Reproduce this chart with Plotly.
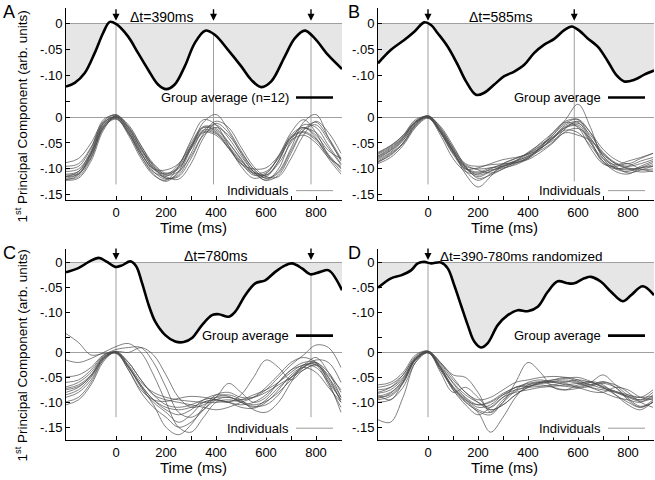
import plotly.graph_objects as go

W, H = 655, 480
FONT = "Liberation Sans, Arial, Helvetica, sans-serif"

# common time grid of the individual traces (ms)
T = list(range(-200, 901, 50))

# group averages (time ms, value)
GA_A_T = [-200, -165, -125, -85, -52, -25, 0, 48, 88, 128, 168, 201, 235, 275, 315, 357, 395, 448, 501, 541, 581, 621, 675, 715, 755, 795, 848, 904]
GA_A_V = [-0.121, -0.114, -0.095, -0.056, -0.018, 0.004, 0.0, -0.024, -0.056, -0.088, -0.117, -0.126, -0.117, -0.082, -0.037, -0.013, -0.021, -0.050, -0.082, -0.108, -0.122, -0.111, -0.063, -0.028, -0.013, -0.028, -0.060, -0.087]

GA_B_T = [-200, -148, -95, -55, -15, 12, 39, 79, 119, 152, 192, 225, 265, 305, 345, 385, 425, 465, 505, 545, 575, 605, 639, 679, 719, 752, 785, 825, 865, 904]
GA_B_V = [-0.076, -0.050, -0.031, -0.015, 0.003, -0.002, -0.018, -0.044, -0.079, -0.111, -0.137, -0.133, -0.117, -0.101, -0.092, -0.079, -0.056, -0.040, -0.029, -0.012, -0.005, -0.013, -0.028, -0.044, -0.072, -0.098, -0.111, -0.108, -0.098, -0.090]

GA_C_T = [-200, -149, -109, -69, -36, -3, 24, 57, 80, 104, 131, 157, 197, 237, 271, 304, 344, 384, 411, 451, 477, 517, 557, 597, 637, 677, 704, 744, 777, 817, 851, 904]
GA_C_V = [-0.019, -0.010, 0.002, 0.010, 0.002, -0.008, -0.005, 0.003, -0.006, -0.040, -0.085, -0.118, -0.145, -0.158, -0.159, -0.151, -0.125, -0.105, -0.103, -0.108, -0.098, -0.065, -0.041, -0.035, -0.018, -0.005, -0.001, -0.011, -0.023, -0.018, -0.015, -0.055]

GA_D_T = [-200, -148, -108, -68, -41, -15, 12, 52, 79, 105, 132, 159, 185, 212, 239, 279, 319, 359, 399, 439, 479, 519, 559, 585, 625, 652, 692, 732, 779, 812, 859, 904]
GA_D_V = [-0.050, -0.031, -0.025, -0.015, -0.001, 0.002, -0.001, 0.001, -0.011, -0.045, -0.085, -0.125, -0.158, -0.170, -0.161, -0.125, -0.105, -0.095, -0.097, -0.088, -0.058, -0.037, -0.041, -0.041, -0.031, -0.028, -0.038, -0.058, -0.077, -0.065, -0.047, -0.065]

# individual subjects, values on grid T
IND_A = [
    [-0.115, -0.105, -0.065, -0.010, -0.002, -0.035, -0.080, -0.112, -0.122, -0.095, -0.045, -0.005, -0.015, -0.055, -0.095, -0.118, -0.110, -0.075, -0.030, -0.005, -0.030, -0.075, -0.105],
    [-0.122, -0.118, -0.085, -0.025, 0.002, -0.015, -0.055, -0.095, -0.118, -0.112, -0.070, -0.025, -0.015, -0.040, -0.075, -0.105, -0.122, -0.100, -0.045, -0.015, -0.020, -0.055, -0.090],
    [-0.088, -0.080, -0.050, -0.008, 0.005, -0.020, -0.060, -0.095, -0.110, -0.100, -0.060, -0.020, -0.028, -0.055, -0.085, -0.105, -0.112, -0.085, -0.040, -0.020, -0.035, -0.065, -0.080],
    [-0.110, -0.105, -0.070, -0.015, -0.003, -0.030, -0.070, -0.100, -0.102, -0.090, -0.055, -0.025, -0.030, -0.060, -0.090, -0.100, -0.098, -0.075, -0.040, -0.030, -0.045, -0.075, -0.098],
    [-0.118, -0.110, -0.075, -0.020, 0.000, -0.025, -0.068, -0.105, -0.120, -0.108, -0.060, -0.010, 0.005, -0.025, -0.065, -0.100, -0.118, -0.105, -0.060, -0.010, 0.005, -0.040, -0.085],
    [-0.100, -0.095, -0.060, -0.005, 0.003, -0.025, -0.065, -0.098, -0.115, -0.120, -0.090, -0.040, -0.012, -0.030, -0.070, -0.105, -0.122, -0.112, -0.070, -0.025, -0.010, -0.040, -0.080],
    [-0.120, -0.115, -0.080, -0.020, -0.004, -0.030, -0.075, -0.110, -0.124, -0.105, -0.055, -0.020, -0.025, -0.050, -0.080, -0.110, -0.115, -0.085, -0.035, -0.020, -0.040, -0.080, -0.110],
    [-0.095, -0.090, -0.058, -0.012, 0.004, -0.018, -0.055, -0.090, -0.108, -0.098, -0.062, -0.030, -0.035, -0.060, -0.090, -0.108, -0.105, -0.080, -0.045, -0.035, -0.050, -0.078, -0.095],
    [-0.115, -0.110, -0.078, -0.022, -0.001, -0.020, -0.060, -0.100, -0.118, -0.115, -0.080, -0.035, -0.020, -0.035, -0.068, -0.100, -0.118, -0.108, -0.065, -0.025, -0.015, -0.045, -0.082],
    [-0.112, -0.108, -0.072, -0.018, 0.001, -0.028, -0.070, -0.100, -0.110, -0.092, -0.050, -0.018, -0.022, -0.048, -0.082, -0.108, -0.112, -0.090, -0.050, -0.022, -0.030, -0.060, -0.092],
    [-0.105, -0.100, -0.068, -0.016, 0.002, -0.022, -0.062, -0.092, -0.112, -0.105, -0.075, -0.032, -0.008, -0.020, -0.058, -0.095, -0.115, -0.115, -0.080, -0.035, -0.008, -0.030, -0.070],
    [-0.121, -0.112, -0.070, -0.012, 0.000, -0.032, -0.075, -0.106, -0.114, -0.096, -0.058, -0.028, -0.032, -0.058, -0.088, -0.112, -0.108, -0.078, -0.038, -0.028, -0.042, -0.072, -0.100],
]

IND_B = [
    [-0.075, -0.060, -0.040, -0.010, -0.002, -0.030, -0.070, -0.095, -0.100, -0.098, -0.095, -0.088, -0.078, -0.060, -0.040, -0.015, -0.010, -0.045, -0.085, -0.098, -0.100, -0.098, -0.092],
    [-0.085, -0.070, -0.050, -0.015, 0.002, -0.020, -0.060, -0.098, -0.115, -0.105, -0.095, -0.085, -0.075, -0.058, -0.035, -0.010, -0.020, -0.060, -0.090, -0.095, -0.090, -0.100, -0.105],
    [-0.068, -0.055, -0.035, -0.005, 0.000, -0.035, -0.080, -0.105, -0.110, -0.100, -0.090, -0.080, -0.070, -0.050, -0.030, -0.005, 0.025, -0.020, -0.080, -0.100, -0.105, -0.095, -0.085],
    [-0.090, -0.078, -0.055, -0.020, -0.002, -0.025, -0.065, -0.110, -0.135, -0.115, -0.090, -0.080, -0.070, -0.055, -0.040, -0.025, -0.030, -0.055, -0.085, -0.105, -0.110, -0.098, -0.088],
    [-0.080, -0.065, -0.045, -0.012, 0.003, -0.022, -0.058, -0.090, -0.095, -0.092, -0.090, -0.088, -0.080, -0.062, -0.040, -0.020, -0.018, -0.050, -0.080, -0.092, -0.085, -0.078, -0.070],
    [-0.072, -0.058, -0.038, -0.008, 0.001, -0.030, -0.068, -0.100, -0.108, -0.102, -0.098, -0.092, -0.080, -0.058, -0.030, -0.008, -0.005, -0.040, -0.075, -0.095, -0.108, -0.102, -0.095],
    [-0.088, -0.072, -0.052, -0.018, 0.000, -0.018, -0.055, -0.095, -0.118, -0.112, -0.100, -0.090, -0.078, -0.060, -0.045, -0.030, -0.035, -0.045, -0.070, -0.090, -0.098, -0.102, -0.100],
    [-0.078, -0.064, -0.042, -0.010, -0.001, -0.028, -0.064, -0.092, -0.102, -0.108, -0.100, -0.085, -0.068, -0.052, -0.038, -0.018, -0.012, -0.035, -0.068, -0.088, -0.095, -0.090, -0.082],
    [-0.082, -0.068, -0.045, -0.014, 0.002, -0.024, -0.062, -0.096, -0.112, -0.104, -0.094, -0.086, -0.076, -0.064, -0.048, -0.022, -0.008, -0.030, -0.075, -0.098, -0.102, -0.098, -0.095],
    [-0.070, -0.056, -0.036, -0.008, 0.000, -0.030, -0.072, -0.100, -0.098, -0.090, -0.082, -0.078, -0.072, -0.060, -0.042, -0.020, -0.015, -0.048, -0.088, -0.100, -0.095, -0.085, -0.078],
    [-0.086, -0.074, -0.050, -0.016, 0.001, -0.026, -0.066, -0.104, -0.122, -0.110, -0.096, -0.088, -0.082, -0.068, -0.050, -0.028, -0.022, -0.042, -0.072, -0.090, -0.100, -0.106, -0.104],
    [-0.076, -0.062, -0.040, -0.010, 0.002, -0.028, -0.066, -0.098, -0.106, -0.098, -0.092, -0.084, -0.072, -0.056, -0.034, -0.012, -0.004, -0.030, -0.062, -0.082, -0.090, -0.080, -0.070],
]

IND_C = [
    [0.038, 0.020, -0.005, -0.002, -0.002, -0.030, -0.070, -0.100, -0.120, -0.140, -0.125, -0.100, -0.095, -0.100, -0.105, -0.100, -0.085, -0.060, -0.035, -0.025, -0.010, -0.040, -0.090],
    [-0.015, -0.020, -0.012, 0.000, 0.012, 0.018, 0.000, -0.045, -0.100, -0.150, -0.160, -0.130, -0.100, -0.095, -0.100, -0.110, -0.095, -0.070, -0.050, -0.030, -0.020, -0.050, -0.100],
    [-0.049, -0.045, -0.030, -0.005, 0.000, -0.020, -0.055, -0.085, -0.105, -0.110, -0.105, -0.095, -0.090, -0.090, -0.095, -0.090, -0.075, -0.050, -0.025, -0.005, 0.015, 0.010, -0.030],
    [-0.069, -0.060, -0.040, -0.008, 0.002, -0.025, -0.060, -0.080, -0.090, -0.095, -0.098, -0.100, -0.100, -0.098, -0.095, -0.085, -0.075, -0.060, -0.040, -0.025, -0.030, -0.060, -0.095],
    [-0.072, -0.065, -0.045, -0.010, 0.000, -0.035, -0.080, -0.110, -0.130, -0.150, -0.140, -0.115, -0.090, -0.085, -0.095, -0.115, -0.120, -0.100, -0.060, -0.025, -0.025, -0.065, -0.110],
    [-0.075, -0.068, -0.048, -0.012, 0.002, 0.000, 0.010, -0.005, -0.045, -0.090, -0.110, -0.105, -0.090, -0.062, -0.080, -0.100, -0.090, -0.060, -0.035, -0.020, -0.020, -0.040, -0.080],
    [-0.085, -0.075, -0.050, -0.012, 0.001, -0.030, -0.065, -0.095, -0.110, -0.115, -0.110, -0.100, -0.095, -0.100, -0.110, -0.112, -0.100, -0.075, -0.045, -0.030, -0.040, -0.070, -0.100],
    [-0.099, -0.090, -0.060, -0.015, 0.000, -0.028, -0.068, -0.105, -0.150, -0.165, -0.145, -0.110, -0.085, -0.080, -0.090, -0.090, -0.080, -0.065, -0.050, -0.035, -0.025, -0.050, -0.090],
    [-0.105, -0.095, -0.065, -0.018, 0.002, -0.020, -0.055, -0.085, -0.095, -0.100, -0.105, -0.110, -0.115, -0.110, -0.100, -0.090, -0.070, -0.045, -0.020, -0.010, -0.020, -0.055, -0.095],
    [-0.090, -0.080, -0.055, -0.014, -0.001, -0.035, -0.075, -0.095, -0.098, -0.092, -0.088, -0.090, -0.095, -0.100, -0.085, -0.050, -0.015, -0.030, -0.055, -0.035, -0.025, -0.045, -0.075],
    [-0.060, -0.055, -0.035, -0.006, 0.006, 0.010, 0.010, -0.020, -0.070, -0.120, -0.130, -0.115, -0.095, -0.090, -0.098, -0.105, -0.098, -0.080, -0.055, -0.030, -0.015, -0.020, -0.060],
    [-0.080, -0.070, -0.046, -0.010, 0.001, -0.028, -0.066, -0.095, -0.115, -0.125, -0.115, -0.095, -0.085, -0.088, -0.100, -0.108, -0.105, -0.085, -0.050, -0.028, -0.022, -0.060, -0.120],
]

IND_D = [
    [-0.085, -0.095, -0.060, -0.012, 0.000, -0.035, -0.070, -0.095, -0.115, -0.120, -0.095, -0.075, -0.060, -0.055, -0.060, -0.058, -0.062, -0.070, -0.080, -0.090, -0.095, -0.100, -0.085],
    [-0.080, -0.070, -0.045, -0.010, 0.002, -0.025, -0.060, -0.085, -0.100, -0.110, -0.090, -0.070, -0.068, -0.062, -0.058, -0.055, -0.060, -0.070, -0.075, -0.080, -0.088, -0.095, -0.080],
    [-0.065, -0.060, -0.040, -0.005, 0.003, -0.020, -0.045, -0.050, -0.080, -0.120, -0.100, -0.060, -0.020, -0.040, -0.070, -0.075, -0.065, -0.060, -0.070, -0.085, -0.100, -0.110, -0.095],
    [-0.135, -0.140, -0.090, -0.020, 0.000, -0.030, -0.075, -0.100, -0.120, -0.160, -0.130, -0.090, -0.065, -0.060, -0.065, -0.068, -0.070, -0.065, -0.060, -0.065, -0.080, -0.100, -0.110],
    [-0.090, -0.085, -0.060, -0.015, 0.001, -0.030, -0.068, -0.092, -0.110, -0.105, -0.085, -0.070, -0.065, -0.060, -0.055, -0.050, -0.055, -0.065, -0.058, -0.070, -0.095, -0.110, -0.100],
    [-0.075, -0.070, -0.050, -0.012, 0.002, -0.040, -0.080, -0.070, -0.090, -0.115, -0.105, -0.085, -0.070, -0.060, -0.058, -0.062, -0.068, -0.060, -0.045, -0.065, -0.085, -0.090, -0.075],
    [-0.095, -0.088, -0.062, -0.016, 0.000, -0.028, -0.062, -0.090, -0.105, -0.100, -0.085, -0.075, -0.070, -0.068, -0.065, -0.060, -0.055, -0.060, -0.070, -0.080, -0.090, -0.098, -0.092],
    [-0.070, -0.064, -0.045, -0.008, 0.003, -0.020, -0.050, -0.080, -0.095, -0.090, -0.075, -0.060, -0.055, -0.050, -0.048, -0.050, -0.058, -0.065, -0.072, -0.078, -0.085, -0.090, -0.088],
    [-0.100, -0.095, -0.070, -0.020, -0.001, -0.035, -0.075, -0.105, -0.125, -0.110, -0.090, -0.080, -0.075, -0.070, -0.068, -0.065, -0.062, -0.058, -0.065, -0.085, -0.105, -0.115, -0.098],
    [-0.088, -0.080, -0.058, -0.014, 0.001, -0.022, -0.055, -0.080, -0.100, -0.115, -0.105, -0.085, -0.070, -0.062, -0.060, -0.065, -0.070, -0.078, -0.080, -0.070, -0.075, -0.090, -0.095],
    [-0.082, -0.075, -0.052, -0.012, 0.002, -0.030, -0.070, -0.095, -0.105, -0.098, -0.082, -0.070, -0.062, -0.058, -0.055, -0.052, -0.050, -0.058, -0.068, -0.078, -0.088, -0.095, -0.090],
    [-0.092, -0.082, -0.055, -0.014, 0.000, -0.032, -0.072, -0.098, -0.118, -0.125, -0.100, -0.078, -0.068, -0.065, -0.070, -0.075, -0.072, -0.068, -0.062, -0.070, -0.092, -0.108, -0.100],
]

EVENTS_A = [0, 390, 780]
EVENTS_B = [0, 585]
EVENTS_C = [0, 780]
EVENTS_D = [0]

LABELS = ["A", "B", "C", "D"]
DT_TEXT = ["\u0394t=390ms", "\u0394t=585ms", "\u0394t=780ms", "\u0394t=390-780ms randomized"]
DT_POS = [180, 290, 396, 372]
GA_LEGEND = ["Group average (n=12)", "Group average", "Group average", "Group average"]

X_TICKS = [0, 200, 400, 600, 800]
X_MINOR = [100, 300, 500, 700, 900]
Y_TOP_TICKS = [0, -0.05, -0.10]
Y_TOP_TEXT = ["0", "-.05", "-.10"]
Y_TOP_MINOR = [-0.15]
Y_BOT_TICKS = [0, -0.05, -0.10, -0.15]
Y_BOT_TEXT = ["0", "-.05", "-.10", "-.15"]

# layout in pixels
COL_PX = [(66, 342), (378, 654)]
ROW_PX = [(8, 201), (250, 442)]
TOP_RANGE = [(-0.3404, 0.0308), (-0.356, 0.028)]
OFFSET = 0.18   # distance between the two zero lines, in data units
XRANGE = [-200, 904]

panels = [
    dict(ga_t=GA_A_T, ga_v=GA_A_V, ind=IND_A, ev=EVENTS_A),
    dict(ga_t=GA_B_T, ga_v=GA_B_V, ind=IND_B, ev=EVENTS_B),
    dict(ga_t=GA_C_T, ga_v=GA_C_V, ind=IND_C, ev=EVENTS_C),
    dict(ga_t=GA_D_T, ga_v=GA_D_V, ind=IND_D, ev=EVENTS_D),
]

fig = go.Figure()
shapes = []
annotations = []
tickfont = dict(family=FONT, size=13, color="black")
axline = dict(showline=True, linecolor="black", linewidth=1, ticks="inside", ticklen=4,
              tickcolor="black", tickfont=tickfont, showgrid=False)

for i, p in enumerate(panels):
    row, col = i // 2, i % 2
    xn = "x" if i == 0 else "x%d" % (i + 1)
    yt = "y" if i == 0 else "y%d" % (2 * i + 1)
    yb = "y%d" % (2 * i + 2)
    x0, x1 = COL_PX[col]
    r0, r1 = ROW_PX[row]
    tr = TOP_RANGE[row]

    fig.layout["xaxis" + xn[1:]] = dict(
        domain=[x0 / W, x1 / W], range=XRANGE, anchor=yt,
        tickvals=X_TICKS, ticktext=[str(v) for v in X_TICKS],
        minor=dict(tickvals=X_MINOR, ticks="inside", ticklen=4, tickcolor="black"),
        zeroline=False, **axline)
    fig.layout["yaxis" + yt[1:]] = dict(
        domain=[1 - r1 / H, 1 - r0 / H], range=list(tr), anchor=xn,
        tickvals=Y_TOP_TICKS, ticktext=Y_TOP_TEXT,
        minor=dict(tickvals=Y_TOP_MINOR, ticks="inside", ticklen=4, tickcolor="black"),
        zeroline=True, zerolinecolor="#a0a0a0", zerolinewidth=1, **axline)
    fig.layout["yaxis" + yb[1:]] = dict(
        range=[tr[0] + OFFSET, tr[1] + OFFSET], anchor=xn, overlaying=yt, side="left",
        tickvals=Y_BOT_TICKS, ticktext=Y_BOT_TEXT,
        zeroline=True, zerolinecolor="#a0a0a0", zerolinewidth=1, **axline)

    # individuals
    for vals in p["ind"]:
        fig.add_trace(go.Scatter(x=T, y=vals, xaxis=xn, yaxis=yb, mode="lines",
                                 line=dict(color="#4a4a4a", width=0.7, shape="spline"),
                                 showlegend=False, hoverinfo="skip"))
    # group average with shading to zero
    fig.add_trace(go.Scatter(x=p["ga_t"], y=[0] * len(p["ga_t"]), xaxis=xn, yaxis=yt,
                             mode="lines", line=dict(width=0), showlegend=False, hoverinfo="skip"))
    fig.add_trace(go.Scatter(x=p["ga_t"], y=p["ga_v"], xaxis=xn, yaxis=yt, mode="lines",
                             fill="tonexty", fillcolor="#e6e6e6",
                             line=dict(color="black", width=2.6, shape="spline"),
                             showlegend=False))

    # event lines and arrows
    for t in p["ev"]:
        shapes.append(dict(type="line", xref=xn, yref=yt, x0=t, x1=t, y0=0, y1=-(OFFSET + 0.13),
                           line=dict(color="#a0a0a0", width=1), layer="below"))
        annotations.append(dict(x=t, y=0.006, xref=xn, yref=yt, text="", showarrow=True,
                                ax=0, ay=-13, arrowhead=2, arrowsize=1, arrowwidth=1.4,
                                arrowcolor="black", standoff=0))
    annotations.append(dict(x=DT_POS[i], y=0.0135, xref=xn, yref=yt, text=DT_TEXT[i],
                            showarrow=False, font=dict(family=FONT, size=14 if i < 3 else 13.5),
                            xanchor="center", yanchor="middle"))

    # in-plot legends
    lx0, lx1, ltext = 1 - 46 / 276, 1 - 9 / 276, 1 - 51 / 276
    gy = -0.142 if row == 0 else -0.146
    iy = -0.142 if row == 0 else -0.152
    shapes.append(dict(type="line", xref=xn + " domain", yref=yt, x0=lx0, x1=lx1, y0=gy, y1=gy,
                       line=dict(color="black", width=2.6)))
    annotations.append(dict(x=ltext, y=gy, xref=xn + " domain", yref=yt, text=GA_LEGEND[i],
                            showarrow=False, xanchor="right", yanchor="middle",
                            font=dict(family=FONT, size=13)))
    shapes.append(dict(type="line", xref=xn + " domain", yref=yb, x0=lx0, x1=lx1, y0=iy, y1=iy,
                       line=dict(color="#808080", width=0.8)))
    annotations.append(dict(x=ltext, y=iy, xref=xn + " domain", yref=yb, text="Individuals",
                            showarrow=False, xanchor="right", yanchor="middle",
                            font=dict(family=FONT, size=13), bgcolor="white"))

    # panel letter and time axis title
    annotations.append(dict(x=(1 if col == 0 else 346) / W, y=1 - (r0 - 8) / H, xref="paper", yref="paper",
                            text=LABELS[i], showarrow=False, xanchor="left", yanchor="top",
                            font=dict(family=FONT, size=18)))
    annotations.append(dict(x=(193 if col == 0 else 504) / W, y=1 - (r1 + 27) / H,
                            xref="paper", yref="paper", text="Time (ms)", showarrow=False,
                            xanchor="center", yanchor="middle", font=dict(family=FONT, size=15)))

for cy in (117, 357):
    annotations.append(dict(x=21 / W, y=1 - cy / H, xref="paper", yref="paper",
                            text="1<sup>st</sup> Principal Component (arb. units)",
                            textangle=-90, showarrow=False, xanchor="center", yanchor="middle",
                            font=dict(family=FONT, size=13.5)))

fig.update_layout(width=W, height=H, margin=dict(l=0, r=0, t=0, b=0),
                  paper_bgcolor="white", plot_bgcolor="white",
                  showlegend=False, shapes=shapes, annotations=annotations,
                  font=dict(family=FONT, color="black"))
fig.write_html("out.html", config={"displayModeBar": False},
               post_script="document.body.style.margin='0px';")
